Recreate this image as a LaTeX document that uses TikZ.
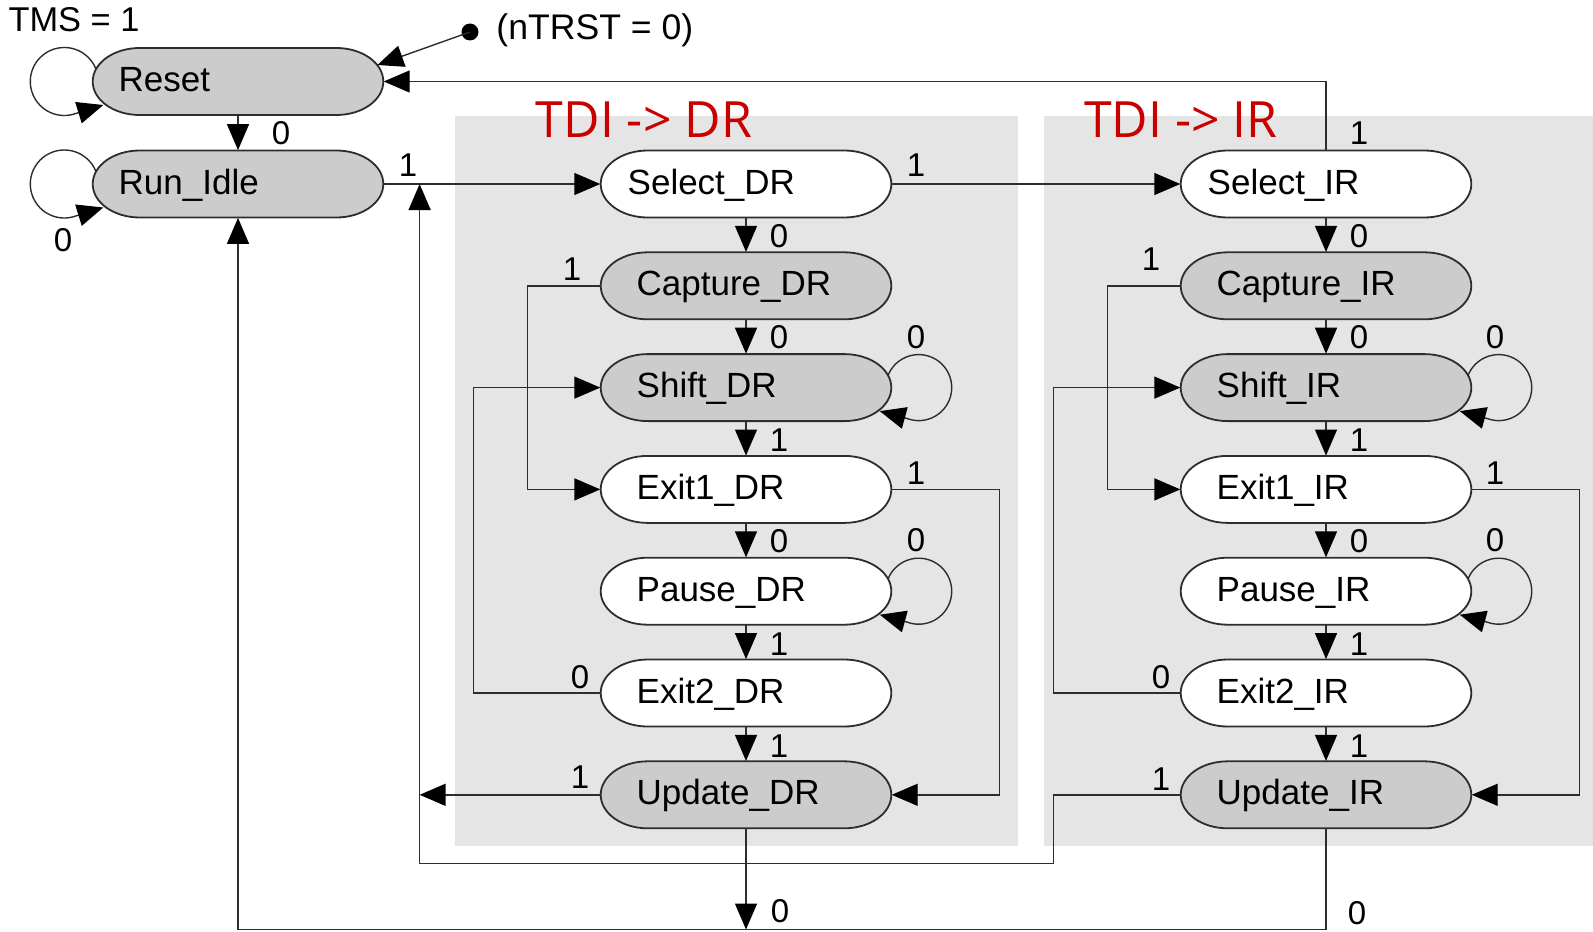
\documentclass[tikz,border=0pt]{standalone}
\usepackage{fontspec}
\setmainfont{Liberation Sans}
\newfontfamily\tdifont{Open Sans}
\usetikzlibrary{arrows.meta,calc}
\definecolor{boxgray}{RGB}{229,229,229}
\definecolor{stgray}{RGB}{204,204,204}
\definecolor{edgecol}{RGB}{45,45,45}
\definecolor{tdired}{RGB}{200,0,0}
\tikzset{
  stateoutline/.style={draw=edgecol, line width=0.9pt},
  st/.style={rectangle, draw=none, minimum width=145.3pt, minimum height=33.5pt,
    inner xsep=18pt, inner ysep=0pt, text width=109.3pt, align=left,
    text height=10pt, text depth=0pt, font=\fontsize{17.5}{20}\selectfont},
  arr/.style={draw=edgecol, line width=0.7pt, -{Triangle[length=13pt,width=11pt,color=black]}},
  lbl/.style={inner sep=0pt, font=\fontsize{16.5}{18}\selectfont},
  tdi/.style={inner sep=0pt, anchor=base, text=tdired, font=\tdifont\fontsize{25}{28}\selectfont},
  dot/.style={circle, fill=black, inner sep=0pt, minimum size=8.5pt}
}
\newcommand\tapstate[6]{%
  \path[stateoutline, fill=#4] (#2-98.3,-#3+33.5) -- (#2+98.3,-#3+33.5)
     arc[start angle=90,end angle=-90,x radius=47,y radius=33.5]
     -- (#2-98.3,-#3-33.5)
     arc[start angle=270,end angle=90,x radius=47,y radius=33.5] -- cycle;
  \node[st] (#1) at (#2,-#3) {\hspace*{#5}#6};
}
\begin{document}
\begin{tikzpicture}[x=0.5pt,y=0.5pt]
\useasboundingbox (0,0) rectangle (1593,-931);
% background panels
\fill[boxgray] (455,-115.8) rectangle (1018,-846.3);
\fill[boxgray] (1044.4,-115.8) rectangle (1593,-846.3);
\node[tdi] (tdidr) at (644,-137) {TDI -> DR};
\node[tdi] (tdiir) at (1181,-137) {TDI -> IR};
% states
\tapstate{reset}{238}{81.5}{stgray}{-5pt}{Reset}
\tapstate{run}{238}{184}{stgray}{-5pt}{Run\_Idle}
\tapstate{seldr}{746}{184}{white}{-4.5pt}{Select\_DR}
\tapstate{capdr}{746}{285.8}{stgray}{0pt}{Capture\_DR}
\tapstate{shdr}{746}{387.6}{stgray}{0pt}{Shift\_DR}
\tapstate{exadr}{746}{489.4}{white}{0pt}{Exit1\_DR}
\tapstate{padr}{746}{591.2}{white}{0pt}{Pause\_DR}
\tapstate{exbdr}{746}{693}{white}{0pt}{Exit2\_DR}
\tapstate{updr}{746}{794.8}{stgray}{0pt}{Update\_DR}
\tapstate{selir}{1326}{184}{white}{-4.5pt}{Select\_IR}
\tapstate{capir}{1326}{285.8}{stgray}{0pt}{Capture\_IR}
\tapstate{shir}{1326}{387.6}{stgray}{0pt}{Shift\_IR}
\tapstate{exair}{1326}{489.4}{white}{0pt}{Exit1\_IR}
\tapstate{pair}{1326}{591.2}{white}{0pt}{Pause\_IR}
\tapstate{exbir}{1326}{693}{white}{0pt}{Exit2\_IR}
\tapstate{upir}{1326}{794.8}{stgray}{0pt}{Update\_IR}
% helper points
\coordinate (lb) at (419.6,-863.6);
\coordinate (bb) at (0,-929.5);
% reset / nTRST
\node[dot] (ntrst) at (470,-32) {};
\node[lbl, anchor=west, font=\fontsize{17.8}{20}\selectfont] (ntrstlbl) at (496,-30) {(nTRST = 0)};
\node[lbl, font=\fontsize{17.2}{19}\selectfont] (tms) at (74,-20) {TMS = 1};
\draw[arr] (ntrst.center) -- ([shift={(-6.3,16.5)}]reset.east);
% self loops left
\draw[arr] ([shift={(-28,0)}]reset.west) ++(22:34) arc[start angle=22,end angle=290,radius=34]
   -- ([shift={(11,-23.5)}]reset.west);
\draw[arr] ([shift={(-28,0)}]run.west) ++(22:34) arc[start angle=22,end angle=290,radius=34]
   -- ([shift={(11,-23.5)}]run.west);
\node[lbl] (l0run) at (63,-240) {0};
% main connectors
\draw[arr] (reset.south) -- (run.north);
\node[lbl] (l0reset) at (281,-133) {0};
\draw[arr] (run.east) -- (seldr.west);
\node[lbl] (l1run) at (408,-165) {1};
\draw[arr] (seldr.east) -- (selir.west);
\node[lbl] (l1seldr) at (916,-165) {1};
\draw[arr] (selir.north) |- (reset.east);
\node[lbl] (l1selir) at (1359,-133) {1};
% columns
\foreach \c/\x/\lx in {dr/779/916, ir/1359/1495}{
  \draw[arr] (sel\c.south) -- (cap\c.north);
  \draw[arr] (cap\c.south) -- (sh\c.north);
  \draw[arr] (sh\c.south) -- (exa\c.north);
  \draw[arr] (exa\c.south) -- (pa\c.north);
  \draw[arr] (pa\c.south) -- (exb\c.north);
  \draw[arr] (exb\c.south) -- (up\c.north);
  \node[lbl] (la\c) at (\x,-236) {0};
  \node[lbl] (lb\c) at (\x,-337) {0};
  \node[lbl] (lc\c) at (\x,-440) {1};
  \node[lbl] (ld\c) at (\x,-541.5) {0};
  \node[lbl] (le\c) at (\x,-644) {1};
  \node[lbl] (lf\c) at (\x,-746) {1};
  \draw[arr] (cap\c.west) -- ++(-73,0) |- (exa\c.west);
  \draw[arr] (exb\c.west) -- ++(-127,0) |- (sh\c.west);
  \draw[arr] (exa\c.east) -- ++(108,0) |- (up\c.east);
  \node[lbl] (lg\c) at (\lx,-473) {1};
  \draw[arr] ([shift={(27,0)}]sh\c.east) ++(158:33) arc[start angle=158,end angle=-110,radius=33]
     -- ([shift={(-12,-23.5)}]sh\c.east);
  \draw[arr] ([shift={(27,0)}]pa\c.east) ++(158:33) arc[start angle=158,end angle=-110,radius=33]
     -- ([shift={(-12,-23.5)}]pa\c.east);
  \node[lbl] (lh\c) at (\lx,-337) {0};
  \node[lbl] (li\c) at (\lx,-540.5) {0};
}
\node[lbl] (lcapdr) at (572,-269) {1};
\node[lbl] (lcapir) at (1151,-259) {1};
\node[lbl] (lexbdr) at (580,-677) {0};
\node[lbl] (lexbir) at (1161,-677) {0};
% update exits
\draw[arr] (updr.west) -- (updr.west -| lb);
\node[lbl] (lupdr) at (580,-777) {1};
\draw[arr] (upir.west) -- ++(-127,0) |- (lb) -- (lb |- run.east);
\node[lbl] (lupir) at (1161,-779) {1};
\draw[arr] (updr.south) -- (updr.south |- bb);
\node[lbl] (lupdrz) at (780,-911) {0};
\draw[arr] (upir.south) -- (upir.south |- bb) -| (run.south);
\node[lbl] (lupirz) at (1357,-913) {0};
\end{tikzpicture}
\end{document}
